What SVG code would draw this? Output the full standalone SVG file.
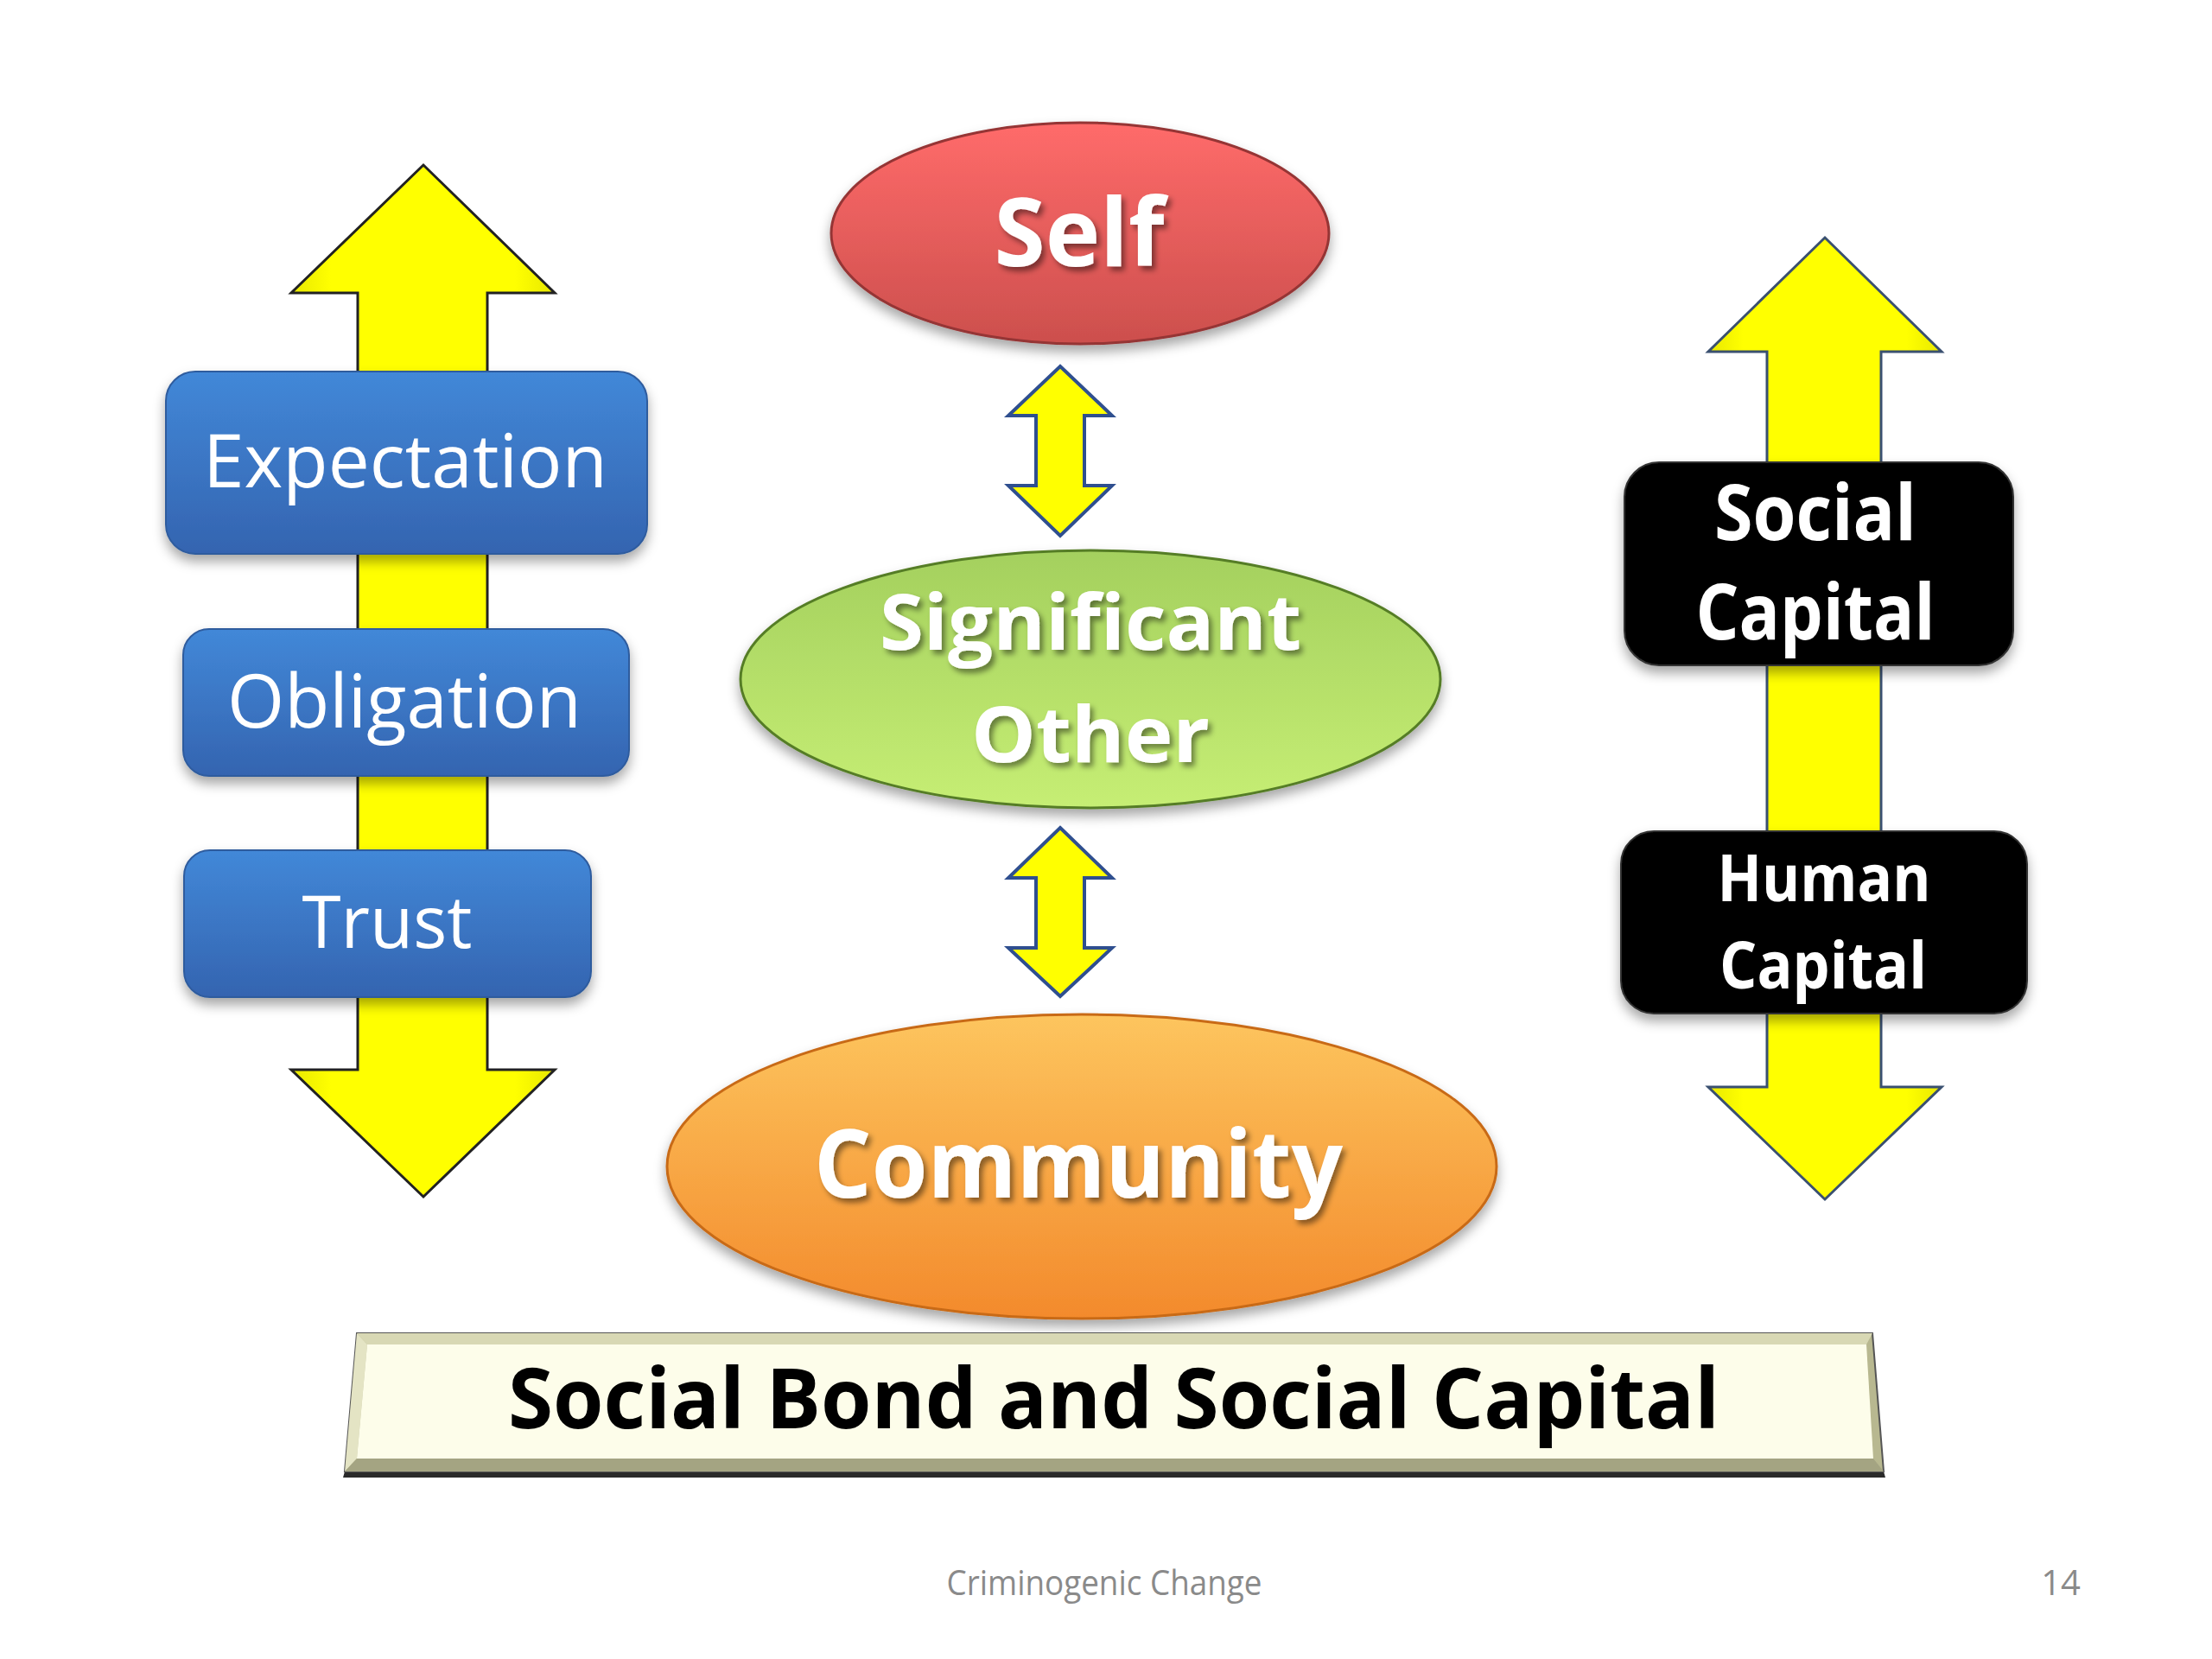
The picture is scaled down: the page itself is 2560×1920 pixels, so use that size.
<svg xmlns="http://www.w3.org/2000/svg" width="2560" height="1920" viewBox="0 0 2560 1920">
<defs>
  <linearGradient id="gRed" x1="0" y1="0" x2="0" y2="1">
    <stop offset="0" stop-color="#ff6b6a"/>
    <stop offset="1" stop-color="#cc4f4d"/>
  </linearGradient>
  <linearGradient id="gGreen" x1="0" y1="0" x2="0" y2="1">
    <stop offset="0" stop-color="#a4d05e"/>
    <stop offset="1" stop-color="#c6ee74"/>
  </linearGradient>
  <linearGradient id="gOrange" x1="0" y1="0" x2="0" y2="1">
    <stop offset="0" stop-color="#fdc55e"/>
    <stop offset="1" stop-color="#f38a2c"/>
  </linearGradient>
  <linearGradient id="gBlue" x1="0" y1="0" x2="0" y2="1">
    <stop offset="0" stop-color="#4288d8"/>
    <stop offset="1" stop-color="#3464b0"/>
  </linearGradient>
  <linearGradient id="gYellow" x1="0" y1="0" x2="1" y2="0">
    <stop offset="0" stop-color="#e8e800"/>
    <stop offset="0.15" stop-color="#ffff00"/>
    <stop offset="0.85" stop-color="#ffff00"/>
    <stop offset="1" stop-color="#e8e800"/>
  </linearGradient>
  <filter id="shadow" x="-10%" y="-10%" width="120%" height="130%">
    <feDropShadow dx="0" dy="8" stdDeviation="7" flood-color="#000" flood-opacity="0.35"/>
  </filter>
  <filter id="tshadow" x="-10%" y="-20%" width="120%" height="150%">
    <feDropShadow dx="4" dy="5" stdDeviation="3" flood-color="#000" flood-opacity="0.45"/>
  </filter>
  <style>
    .yarrow { fill: url(#gYellow); stroke-width: 3; stroke-linejoin: miter; }
    .small { fill: #ffff00; stroke: #2f4f8f; stroke-width: 4; }
    .blue { fill: url(#gBlue); stroke: #2f5c9e; stroke-width: 2; filter: url(#shadow); }
    .black { fill: #050505; stroke: #333; stroke-width: 2; filter: url(#shadow); }
    .reg { font-family: "Open Sans", "Liberation Sans", sans-serif; fill: #ffffff; text-anchor: middle; }
    .bold { font-family: "Open Sans", "Liberation Sans", sans-serif; font-weight: bold; fill: #ffffff; text-anchor: middle; }
    .etxt { filter: url(#tshadow); }
  </style>
</defs>
<rect width="2560" height="1920" fill="#ffffff"/>

<g id="connectors">
  <path id="left-arrow" class="yarrow" stroke="#222" d="M490,191 L642,339 L564,339 L564,1238 L642,1238 L490,1385 L337,1238 L414,1238 L414,339 L337,339 Z"/>
  <path id="right-arrow" class="yarrow" stroke="#3a5070" d="M2112,275 L2247,407 L2177,407 L2177,1258 L2247,1258 L2112,1388 L1977,1258 L2045,1258 L2045,407 L1977,407 Z"/>
  <path id="arrow-self-so" class="small" d="M1227,424 L1287,481 L1255,481 L1255,562 L1287,562 L1227,620 L1167,562 L1199,562 L1199,481 L1167,481 Z"/>
  <path id="arrow-so-comm" class="small" d="M1227,958 L1287,1016 L1255,1016 L1255,1097 L1287,1097 L1227,1153 L1167,1097 L1199,1097 L1199,1016 L1167,1016 Z"/>
</g>

<g id="expectation">
  <rect class="blue" x="192" y="430" width="557" height="211" rx="34"/>
  <text class="reg" x="469" y="564" font-size="86" textLength="468" lengthAdjust="spacingAndGlyphs">Expectation</text>
</g>
<g id="obligation">
  <rect class="blue" x="212" y="728" width="516" height="170" rx="30"/>
  <text class="reg" x="468" y="842" font-size="86" textLength="410" lengthAdjust="spacingAndGlyphs">Obligation</text>
</g>
<g id="trust">
  <rect class="blue" x="213" y="984" width="471" height="170" rx="30"/>
  <text class="reg" x="448" y="1097" font-size="84" textLength="197" lengthAdjust="spacingAndGlyphs">Trust</text>
</g>

<g id="self">
  <ellipse cx="1250" cy="270" rx="288" ry="128" fill="url(#gRed)" stroke="#953434" stroke-width="3" filter="url(#shadow)"/>
  <text class="bold etxt" x="1249" y="308" font-size="110" textLength="197" lengthAdjust="spacingAndGlyphs">Self</text>
</g>
<g id="significant-other">
  <ellipse cx="1262" cy="786" rx="405" ry="149" fill="url(#gGreen)" stroke="#557d25" stroke-width="3" filter="url(#shadow)"/>
  <text class="bold etxt" x="1262" y="752" font-size="90" textLength="488" lengthAdjust="spacingAndGlyphs">Significant</text>
  <text class="bold etxt" x="1262" y="882" font-size="90" textLength="276" lengthAdjust="spacingAndGlyphs">Other</text>
</g>
<g id="community">
  <ellipse cx="1252" cy="1350" rx="480" ry="176" fill="url(#gOrange)" stroke="#c86a18" stroke-width="3" filter="url(#shadow)"/>
  <text class="bold etxt" x="1248" y="1386" font-size="110" textLength="612" lengthAdjust="spacingAndGlyphs">Community</text>
</g>

<g id="social-capital">
  <rect class="black" x="1880" y="535" width="450" height="235" rx="40"/>
  <text class="bold" x="2101" y="625" font-size="90" textLength="234" lengthAdjust="spacingAndGlyphs">Social</text>
  <text class="bold" x="2101" y="740" font-size="90" textLength="277" lengthAdjust="spacingAndGlyphs">Capital</text>
</g>
<g id="human-capital">
  <rect class="black" x="1876" y="962" width="470" height="211" rx="38"/>
  <text class="bold" x="2111" y="1043" font-size="75" textLength="247" lengthAdjust="spacingAndGlyphs">Human</text>
  <text class="bold" x="2110" y="1144" font-size="75" textLength="240" lengthAdjust="spacingAndGlyphs">Capital</text>
</g>

<g id="title">
  <polygon points="399,1703 2180,1703 2182,1710 397,1710" fill="#2a2a2a"/>
  <polygon points="413,1543 2167,1543 2180,1703 399,1703" fill="#b8b890" stroke="#555" stroke-width="2"/>
  <polygon points="413,1543 2167,1543 2160,1556 425,1556" fill="#d8d8b4"/>
  <polygon points="413,1543 425,1556 413,1688 399,1703" fill="#e4e4c4"/>
  <polygon points="413,1688 2168,1688 2180,1703 399,1703" fill="#a4a482"/>
  <polygon points="425,1556 2160,1556 2168,1688 413,1688" fill="#fdfdea"/>
  <text x="1289" y="1653" font-family="'Open Sans', 'Liberation Sans', sans-serif" font-weight="bold" font-size="96" fill="#000" text-anchor="middle" textLength="1402" lengthAdjust="spacingAndGlyphs">Social Bond and Social Capital</text>
</g>

<g id="footer">
  <text x="1278" y="1846" font-family="'Open Sans', 'Liberation Sans', sans-serif" font-size="40" fill="#8a8a8a" text-anchor="middle" textLength="365" lengthAdjust="spacingAndGlyphs">Criminogenic Change</text>
  <text x="2408" y="1846" font-family="'Open Sans', 'Liberation Sans', sans-serif" font-size="40" fill="#8a8a8a" text-anchor="end">14</text>
</g>
</svg>
